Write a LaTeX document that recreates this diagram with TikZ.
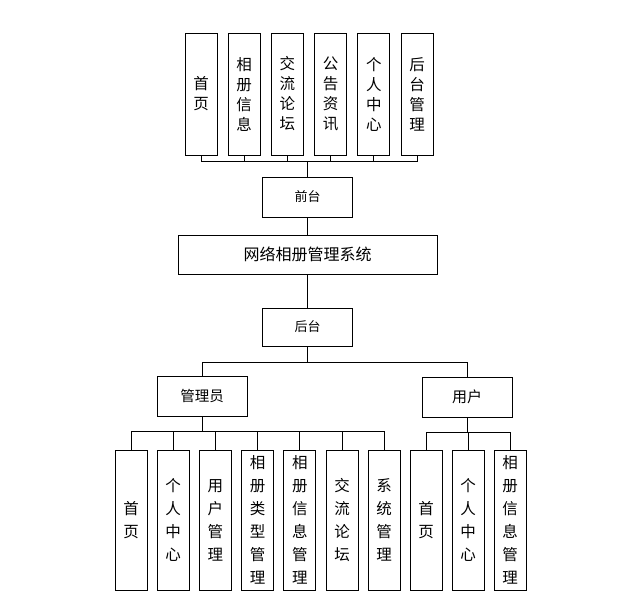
\documentclass[tikz,border=0pt]{standalone}
\usepackage{fontspec}
\setmainfont{Noto Sans CJK SC}
\usetikzlibrary{positioning}

\begin{document}
\begin{tikzpicture}[x=1pt,y=-1pt,on grid,line width=0.9pt,
    box/.style={draw,fill=white,inner sep=0pt,align=center},
    topbox/.style={box,minimum width=32pt,minimum height=122pt,font=\fontsize{15.5}{20}\selectfont},
    lowbox/.style={box,minimum width=32pt,minimum height=140pt,font=\fontsize{15.5}{23}\selectfont},
    wide/.style={box,minimum width=90pt,minimum height=40pt,font=\fontsize{13}{15}\selectfont}]

        \useasboundingbox[fill=white] (0,0) rectangle (622,599);

        % front end
        \node[topbox] (t1) at (201,94)      {首\\页};
        \node[topbox] (t2) [right=43.2pt of t1] {相\\册\\信\\息};
        \node[topbox] (t3) [right=43.2pt of t2] {交\\流\\论\\坛};
        \node[topbox] (t4) [right=43.2pt of t3] {公\\告\\资\\讯};
        \node[topbox] (t5) [right=43.2pt of t4] {个\\人\\中\\心};
        \node[topbox] (t6) [right=43.2pt of t5] {后\\台\\管\\理};

        \node[wide] (qt) at (307.5,197) {前台};
        \node[wide, minimum width=259pt, minimum height=39pt, font=\fontsize{16}{18}\selectfont]
                    (sys) at (307.5,254.5) {网络相册管理系统};
        \node[wide, minimum height=38pt] (ht) at (307.5,327) {后台};

        % back end
        \node[wide, font=\fontsize{14.5}{16}\selectfont] (adm) at (202,396) {管理员};
        \node[wide, font=\fontsize{15}{17}\selectfont]   (usr) at (467,397) {用户};

        \node[lowbox] (a1) at (131,520)     {首\\页};
        \node[lowbox] (a2) [right=42.2pt of a1] {个\\人\\中\\心};
        \node[lowbox] (a3) [right=42.2pt of a2] {用\\户\\管\\理};
        \node[lowbox] (a4) [right=42.2pt of a3] {相\\册\\类\\型\\管\\理};
        \node[lowbox] (a5) [right=42.2pt of a4] {相\\册\\信\\息\\管\\理};
        \node[lowbox] (a6) [right=42.2pt of a5] {交\\流\\论\\坛};
        \node[lowbox] (a7) [right=42.2pt of a6] {系\\统\\管\\理};

        \node[lowbox] (u1) at (426,520)     {首\\页};
        \node[lowbox] (u2) [right=42pt of u1] {个\\人\\中\\心};
        \node[lowbox] (u3) [right=42pt of u2] {相\\册\\信\\息\\管\\理};

        \foreach \n in {t1,t2,t3,t4,t5,t6}
            \draw (qt.north) -- ++(0,-15) -| (\n.south);
        \draw (qt) -- (sys);
        \draw (sys) -- (ht);
        \foreach \n in {adm,usr}
            \draw (ht.south) -- ++(0,16) -| (\n.north);
        \foreach \n in {a1,a2,a3,a4,a5,a6,a7}
            \draw (adm.south) -- ++(0,15) -| (\n.north);
        \foreach \n in {u1,u2,u3}
            \draw (usr.south) -- ++(0,15) -| (\n.north);
    \end{tikzpicture}
\end{document}
